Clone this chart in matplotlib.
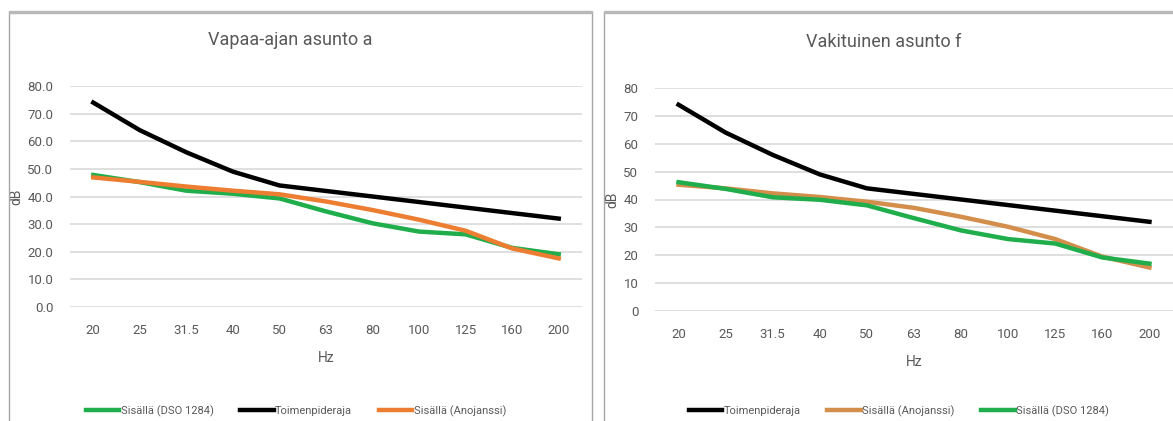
import matplotlib.pyplot as plt
from matplotlib.patches import Rectangle

plt.rcParams['font.family'] = ['Roboto', 'DejaVu Sans']

hz = ["20", "25", "31.5", "40", "50", "63", "80", "100", "125", "160", "200"]

limit = [74, 64, 56, 49, 44, 42, 40, 38, 36, 34, 32]

# Vapaa-ajan asunto a
a_dso = [47.8, 45.2, 42.1, 41.0, 39.3, 34.6, 30.3, 27.3, 26.3, 21.4, 19.1]
a_ano = [46.9, 45.3, 43.6, 42.1, 40.8, 38.2, 35.1, 31.6, 27.6, 21.2, 17.6]

# Vakituinen asunto f
f_ano = [45.3, 44.0, 42.2, 40.9, 39.2, 37.0, 33.8, 30.2, 25.8, 19.5, 15.6]
f_dso = [46.2, 43.8, 40.8, 39.9, 37.9, 33.3, 28.9, 25.8, 24.2, 19.2, 17.0]

grey = "#595959"
grid = "#d9d9d9"
green = "#1fae4b"
orange = "#ed7d31"
tan = "#d38e4c"

W, H = 1173, 421
fig = plt.figure(figsize=(W / 100, H / 100), dpi=100)


def px(x0, y0, x1, y1):
    return [x0 / W, 1 - y1 / H, (x1 - x0) / W, (y1 - y0) / H]


# chart frames
for x0, x1 in [(9, 592), (604, 1180)]:
    fig.patches.append(Rectangle((x0 / W, -0.1), (x1 - x0) / W, 1 - 12 / H + 0.1,
                                 transform=fig.transFigure, fill=False,
                                 edgecolor="#a6a6a6", linewidth=1.0))
    fig.patches.append(Rectangle((x0 / W, 1 - 13 / H), (x1 - x0) / W, 2 / H,
                                 transform=fig.transFigure, color="#b8b8b8"))


def setup(ax, yfmt):
    ax.set_ylim(0, 80)
    ax.set_yticks(range(0, 81, 10))
    ax.set_yticklabels([yfmt.format(v) for v in range(0, 81, 10)])
    ax.set_xticks(range(len(hz)))
    ax.set_xticklabels(hz)
    ax.set_xlim(-0.5, 10.5)
    ax.grid(axis="y", color=grid, linewidth=1.2)
    ax.set_axisbelow(True)
    for s in ax.spines.values():
        s.set_visible(False)
    ax.tick_params(length=0, colors=grey, labelsize=9.5, pad=12)
    ax.tick_params(axis="y", pad=12)
    ax.set_xlabel("Hz", color=grey, fontsize=10, labelpad=10)
    ax.set_ylabel("dB", color=grey, fontsize=10, labelpad=3)


def legend(handles, cx):
    fig.legend(handles=handles, loc="center", bbox_to_anchor=(cx / W, 1 - 411 / H),
               ncol=3, frameon=False, fontsize=8, labelcolor=grey,
               handlelength=3.0, handletextpad=0.15, columnspacing=2.4)


x = range(len(hz))

ax1 = fig.add_axes(px(70, 86, 582, 307))
l_dso, = ax1.plot(x, a_dso, color=green, lw=3.2, label="Sisällä (DSO 1284)")
l_lim, = ax1.plot(x, limit, color="black", lw=3.2, label="Toimenpideraja")
l_ano, = ax1.plot(x, a_ano, color=orange, lw=3.2, label="Sisällä (Anojanssi)")
setup(ax1, "{:.1f}")
fig.text(290 / W, 1 - 40 / H, "Vapaa-ajan asunto a", color=grey, fontsize=13,
         ha="center", va="center")
legend([l_dso, l_lim, l_ano], 296)

ax2 = fig.add_axes(px(655, 88, 1173, 311))
r_lim, = ax2.plot(x, limit, color="black", lw=3.2, label="Toimenpideraja")
r_ano, = ax2.plot(x, f_ano, color=tan, lw=3.2, label="Sisällä (Anojanssi)")
r_dso, = ax2.plot(x, f_dso, color=green, lw=3.2, label="Sisällä (DSO 1284)")
setup(ax2, "{:.0f}")
fig.text(884 / W, 1 - 42 / H, "Vakituinen asunto f", color=grey, fontsize=13,
         ha="center", va="center")
legend([r_lim, r_ano, r_dso], 899)

fig.savefig("out.png", dpi=100)
